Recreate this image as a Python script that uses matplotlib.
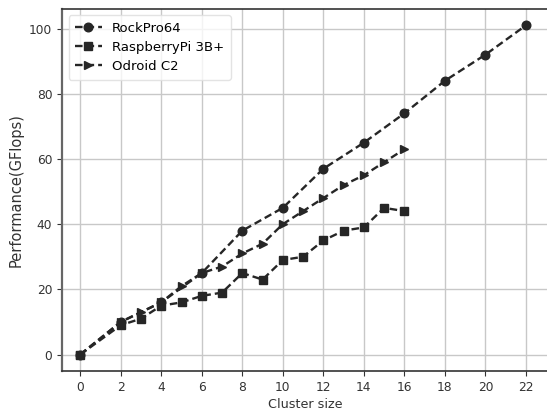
import numpy as np
import matplotlib
matplotlib.use('Agg')
import matplotlib.pyplot as plt

"""data read off the chart"""
rock_x = [0, 2, 4, 6, 8, 10, 12, 14, 16, 18, 20, 22]
rock_y = [0, 10, 16, 25, 38, 45, 57, 65, 74, 84, 92, 101]

rpi_x = [0, 2, 3, 4, 5, 6, 7, 8, 9, 10, 11, 12, 13, 14, 15, 16]
rpi_y = [0, 9, 11, 15, 16, 18, 19, 25, 23, 29, 30, 35, 38, 39, 45, 44]

odroid_x = [0, 2, 3, 4, 5, 6, 7, 8, 9, 10, 11, 12, 13, 14, 15, 16]
odroid_y = [0, 10, 13, 16, 21, 25, 27, 31, 34, 40, 44, 48, 52, 55, 59, 63]

xticks = np.arange(0, 23, 2)

fig = plt.figure(figsize=(5.47, 4.12), dpi=100)
ax = fig.add_axes([0.1133, 0.0995, 0.889, 0.879])

col = '#262626'
dash = (3.2, 1.7)
ax.plot(rock_x, rock_y, linestyle=(0, dash), marker='o', color=col, lw=1.7, ms=6.2, label='RockPro64')
ax.plot(rpi_x, rpi_y, linestyle=(0, dash), marker='s', color=col, lw=1.7, ms=6.2, label='RaspberryPi 3B+')
ax.plot(odroid_x, odroid_y, linestyle=(0, dash), marker='>', color=col, lw=1.7, ms=6.2, label='Odroid C2')

ax.set_xlim(-0.9, 23.1)
ax.set_ylim(-5.05, 106.05)
ax.set_xticks(xticks)
ax.set_yticks([0, 20, 40, 60, 80, 100])
ax.grid(True, color='#c8c8c8', lw=1.0)
ax.set_axisbelow(True)

for s in ax.spines.values():
    s.set_color('#333333')
    s.set_linewidth(1.2)
ax.spines['left'].set_color('#666666')
ax.spines['left'].set_linewidth(1.6)

ax.tick_params(colors='#333333', labelsize=8.8, length=3.5, width=0.8)
ax.set_xlabel('Cluster size', fontsize=9.2, color='#333333', labelpad=3)
ax.set_ylabel('Performance(GFlops)', fontsize=10.5, color='#333333', labelpad=4)

leg = ax.legend(loc='upper left', fontsize=9.5, handlelength=2.0, frameon=True,
                borderpad=0.5, labelspacing=0.45)
leg.get_frame().set_edgecolor('#dddddd')

plt.savefig('out.png', dpi=100)
